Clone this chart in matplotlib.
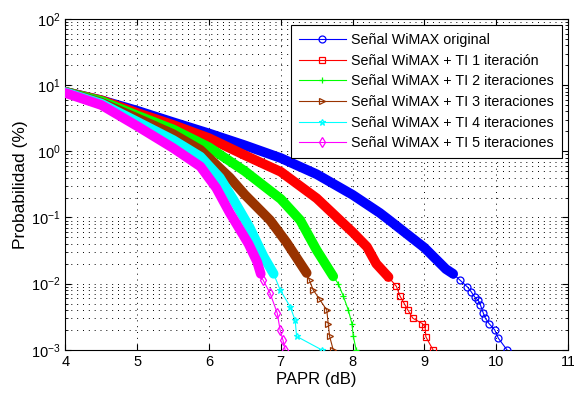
import matplotlib
matplotlib.use('Agg')
import matplotlib.pyplot as plt
from matplotlib.lines import Line2D
from matplotlib.ticker import NullLocator, LogLocator

plt.rcParams['font.family'] = ['Liberation Sans', 'DejaVu Sans']
plt.rcParams['mathtext.default'] = 'regular'

# ---- data (PAPR in dB, CCDF probability in %) ----
papr_orig = [4.0, 4.5, 5.0, 5.5, 6.0, 6.5, 7.0, 7.5, 8.0, 8.38, 8.5, 9.0, 9.3, 9.4, 9.5,
             9.6, 9.65, 9.7, 9.75, 9.78, 9.82, 9.85, 9.9, 9.98, 10.03, 10.15]
prob_orig = [7.9, 5.9, 4.1, 2.75, 1.86, 1.23, 0.79, 0.45, 0.22, 0.117, 0.093, 0.035, 0.0166,
             0.0141, 0.0112, 0.0089, 0.0076, 0.0063, 0.0056, 0.0048, 0.0036, 0.0030, 0.0025,
             0.0020, 0.0015, 0.001]

papr_ti1 = [4.0, 4.5, 5.0, 5.5, 6.0, 6.5, 7.0, 7.5, 8.0, 8.2, 8.33, 8.5, 8.61, 8.66, 8.72,
            8.77, 8.84, 8.97, 9.01, 9.02, 9.12]
prob_ti1 = [7.9, 5.9, 3.8, 2.5, 1.58, 0.87, 0.49, 0.195, 0.060, 0.036, 0.020, 0.0126, 0.0091,
            0.0065, 0.0050, 0.0040, 0.0030, 0.0025, 0.00224, 0.00158, 0.001]

papr_ti2 = [4.0, 4.5, 5.0, 5.5, 6.0, 6.5, 7.0, 7.27, 7.5, 7.73, 7.80, 7.87, 7.94, 7.99, 8.01, 8.05]
prob_ti2 = [7.9, 5.75, 3.47, 2.14, 1.15, 0.50, 0.19, 0.091, 0.032, 0.0129, 0.010, 0.0065,
            0.0040, 0.0025, 0.0016, 0.001]

papr_ti3 = [4.0, 4.5, 5.0, 5.5, 5.88, 6.29, 6.5, 6.85, 7.08, 7.36, 7.40, 7.45, 7.54, 7.64,
            7.66, 7.68, 7.73]
prob_ti3 = [7.9, 5.4, 3.16, 1.82, 1.05, 0.40, 0.22, 0.091, 0.042, 0.0145, 0.0112, 0.0081,
            0.0058, 0.0040, 0.0025, 0.0016, 0.001]

papr_ti4 = [4.0, 4.5, 5.0, 5.5, 5.88, 6.15, 6.34, 6.57, 6.76, 6.90, 6.99, 7.13, 7.20, 7.22, 7.57]
prob_ti4 = [7.8, 5.25, 2.8, 1.48, 0.83, 0.40, 0.186, 0.069, 0.0257, 0.0141, 0.0081, 0.0045,
            0.0028, 0.0016, 0.001]

papr_ti5 = [4.0, 4.5, 5.0, 5.5, 5.88, 6.10, 6.29, 6.55, 6.67, 6.72, 6.75, 6.85, 6.95, 6.99,
            7.03, 7.06]
prob_ti5 = [7.6, 5.0, 2.4, 1.12, 0.59, 0.28, 0.117, 0.040, 0.0214, 0.0141, 0.0115, 0.0072,
            0.0036, 0.0020, 0.0014, 0.001]

labels = ['Señal WiMAX original',
          'Señal WiMAX + TI 1 iteración',
          'Señal WiMAX + TI 2 iteraciones',
          'Señal WiMAX + TI 3 iteraciones',
          'Señal WiMAX + TI 4 iteraciones',
          'Señal WiMAX + TI 5 iteraciones']

x_ticks = [4, 5, 6, 7, 8, 9, 10, 11]

series = [
    (papr_orig, prob_orig, (0, 0, 1), 'o'),
    (papr_ti1, prob_ti1, (1, 0, 0), 's'),
    (papr_ti2, prob_ti2, (0, 1, 0), '+'),
    (papr_ti3, prob_ti3, (0.6, 0.2, 0), '>'),
    (papr_ti4, prob_ti4, (0, 1, 1), '*'),
    (papr_ti5, prob_ti5, (1, 0, 1), 'd'),
]

fig = plt.figure(figsize=(5.74, 3.94), dpi=100)
ax = fig.add_axes([0.114, 0.112, 0.8755, 0.840])

band_limit = 0.012
handles = []
for (xs, ps, color, marker), lab in zip(series, labels):
    k = max(i for i, p in enumerate(ps) if p >= band_limit)
    ax.plot(xs[:k + 1], ps[:k + 1], color=color, lw=7,
            solid_capstyle='round', solid_joinstyle='round', zorder=3)
    ax.plot(xs[k:], ps[k:], color=color, lw=0.8, marker=marker, ms=5,
            mfc='none', mec=color, mew=0.9, zorder=3)
    handles.append(Line2D([], [], color=color, lw=0.8, marker=marker, ms=5,
                          mfc='none', mec=color, mew=0.9, label=lab))

ax.set_yscale('log')
ax.set_xlim(4, 11)
ax.set_ylim(1e-3, 1e2)
ax.set_xticks(x_ticks)
ax.set_xticklabels([str(t) for t in x_ticks])
ax.xaxis.set_minor_locator(NullLocator())
ax.yaxis.set_major_locator(LogLocator(base=10, numticks=10))
ax.yaxis.set_minor_locator(LogLocator(base=10, subs=range(2, 10), numticks=20))

grid_kw = dict(color='k', lw=0.7, linestyle=(0, (1, 5)))
ax.grid(True, which='major', axis='both', **grid_kw)
ax.grid(True, which='minor', axis='y', **grid_kw)
ax.set_axisbelow(True)

ax.tick_params(direction='in', which='both', top=True, right=True, labelsize=10.5,
               colors='k')
ax.tick_params(which='major', length=4)
ax.tick_params(which='minor', length=2)
for s in ax.spines.values():
    s.set_linewidth(0.8)

ax.set_xlabel('PAPR (dB)', fontsize=12, labelpad=2)
ax.set_ylabel('Probabilidad (%)', fontsize=12.5, labelpad=2)

leg = ax.legend(handles=handles, loc='upper right', fontsize=10.3, handlelength=3.3,
                numpoints=1, fancybox=False, framealpha=1, edgecolor='k',
                borderaxespad=0.45, labelspacing=0.46, handletextpad=0.35,
                borderpad=0.55)
leg.get_frame().set_linewidth(0.8)

fig.savefig('out.png', dpi=100)
